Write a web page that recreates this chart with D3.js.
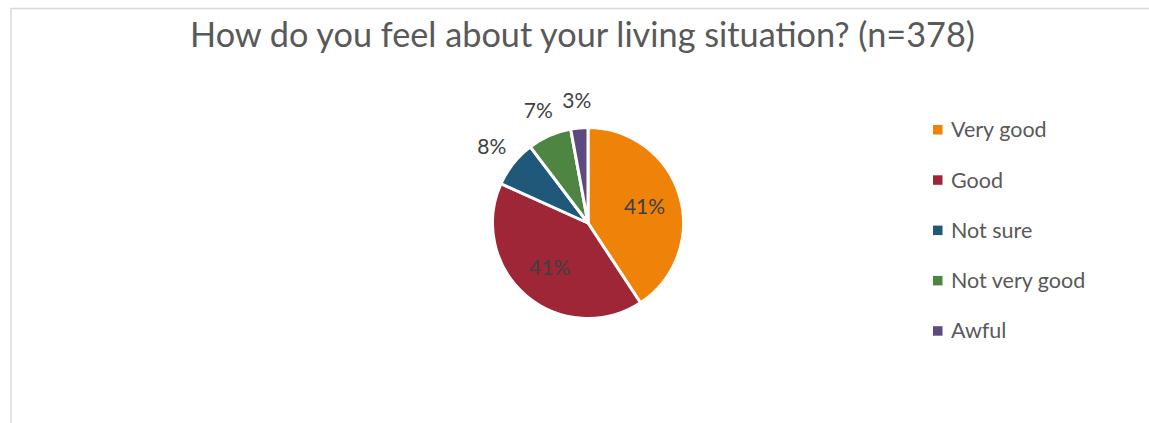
<!DOCTYPE html>
<html>
<head>
<meta charset="utf-8">
<script src="https://cdn.jsdelivr.net/npm/d3@7"></script>
<style>
  body { margin: 0; background: #fff; }
  svg { display: block; font-family: Lato, "Open Sans", sans-serif; }
</style>
</head>
<body>
<div id="chart"></div>
<script>
// answers (counts out of n=378)
var categories = ["Very good", "Good", "Not sure", "Not very good", "Awful"];
var counts = [154, 155, 30, 28, 11];
var pctLabels = ["41%", "41%", "8%", "7%", "3%"];
var colors = ["#ef8209", "#9e2637", "#1f5878", "#4e8543", "#5f4a7f"];

var width = 1149, height = 423;

var svg = d3.select("#chart").append("svg")
    .attr("width", width)
    .attr("height", height);

// chart area border (runs off the right and bottom)
svg.append("rect")
    .attr("x", 11)
    .attr("y", 8.5)
    .attr("width", 1160)
    .attr("height", 430)
    .attr("fill", "#fff")
    .attr("stroke", "#d9d9d9")
    .attr("stroke-width", 1.5);

// title
var title = svg.append("text")
    .attr("x", 582.5)
    .attr("y", 47)
    .attr("text-anchor", "middle")
    .attr("fill", "#595959")
    .style("font-size", "30px")
    .text("How do you feel about your living situation? (n=378)");

// fit the title to the reference width
var tw = title.node().getComputedTextLength();
title.style("font-size", (30 * 785 / tw) + "px");

var cx = 588, cy = 223, r = 95.5;

var pie = d3.pie().sort(null).value(function(d) { return d; });
var arcs = pie(counts);

var arc = d3.arc().innerRadius(0).outerRadius(r);

var g = svg.append("g")
    .attr("transform", "translate(" + cx + "," + cy + ")");

g.selectAll("path.slice")
    .data(arcs)
  .enter().append("path")
    .attr("class", "slice")
    .attr("d", arc)
    .attr("fill", function(d, i) { return colors[i]; })
    .attr("stroke", "#fff")
    .attr("stroke-width", 3)
    .attr("stroke-linejoin", "round");

// big slices get labels inside, small ones outside
var inArc = d3.arc().innerRadius(59).outerRadius(59);
var outArc = d3.arc().innerRadius(123).outerRadius(123);

g.selectAll("text.lbl")
    .data(arcs)
  .enter().append("text")
    .attr("class", "lbl")
    .attr("transform", function(d) {
        var c = (d.endAngle - d.startAngle) > 1 ? inArc.centroid(d) : outArc.centroid(d);
        return "translate(" + c[0] + "," + c[1] + ")";
    })
    .attr("text-anchor", "middle")
    .attr("dy", "0.36em")
    .attr("fill", "#404040")
    .style("font-size", "21px")
    .text(function(d, i) { return pctLabels[i]; });

// legend
var legend = svg.append("g")
    .attr("transform", "translate(933,129.5)");

var item = legend.selectAll("g")
    .data(categories)
  .enter().append("g")
    .attr("transform", function(d, i) { return "translate(0," + (i * 50.3) + ")"; });

item.append("rect")
    .attr("x", 0)
    .attr("y", -4.5)
    .attr("width", 9.5)
    .attr("height", 9.5)
    .attr("fill", function(d, i) { return colors[i]; });

item.append("text")
    .attr("x", 18)
    .attr("dy", "0.36em")
    .attr("fill", "#595959")
    .style("font-size", "21.5px")
    .text(function(d) { return d; });
</script>
</body>
</html>
